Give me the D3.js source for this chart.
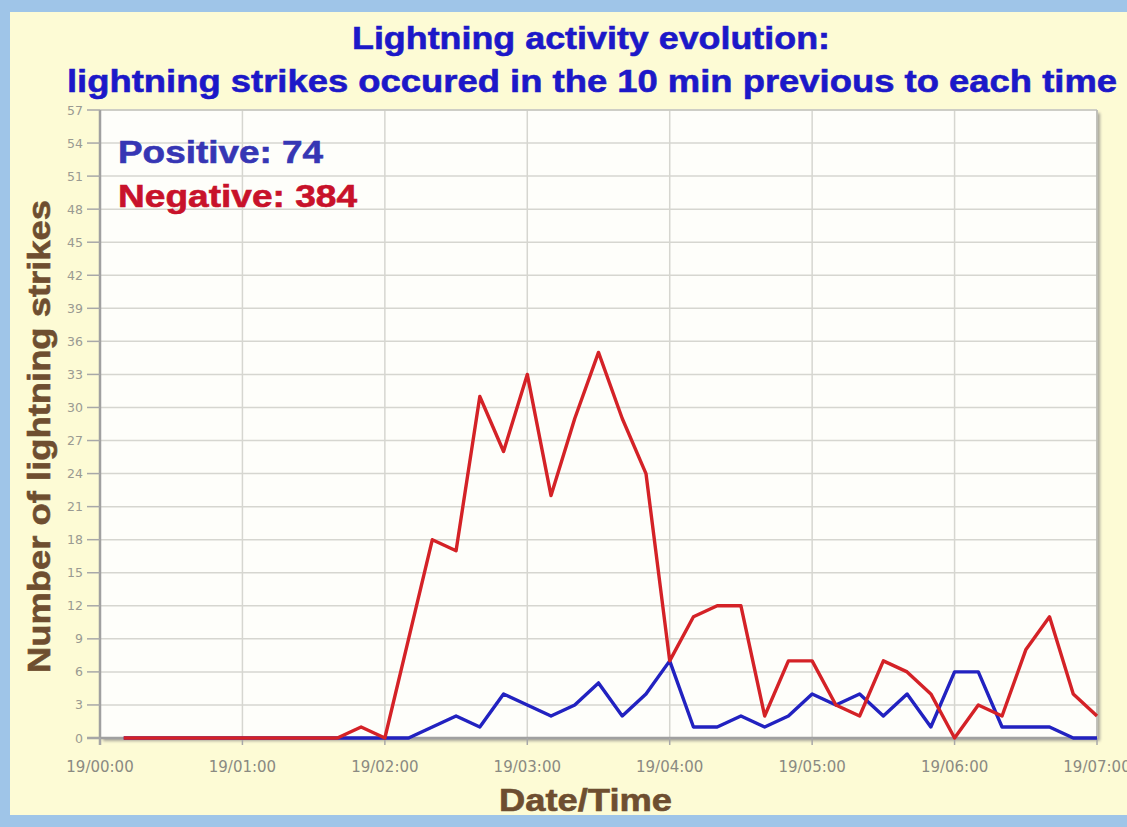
<!DOCTYPE html>
<html>
<head>
<meta charset="utf-8">
<script src="https://cdn.jsdelivr.net/npm/d3@7"></script>
<style>
  body { margin: 0; background: #9fc5e8; }
  svg { display: block; }
</style>
</head>
<body>
<svg id="chart" width="1127" height="827"></svg>
<script>
// data: strikes in the 10 min before each time
var times = ["00:10","00:20","00:30","00:40","00:50","01:00","01:10","01:20","01:30","01:40","01:50","02:00",
             "02:10","02:20","02:30","02:40","02:50","03:00","03:10","03:20","03:30","03:40","03:50","04:00",
             "04:10","04:20","04:30","04:40","04:50","05:00","05:10","05:20","05:30","05:40","05:50","06:00",
             "06:10","06:20","06:30","06:40","06:50","07:00"];
var positive = [0,0,0,0,0,0,0,0,0,0,0,0,0,1,2,1,4,3,2,3,5,2,4,7,1,1,2,1,2,4,3,4,2,4,1,6,6,1,1,1,0,0];
var negative = [0,0,0,0,0,0,0,0,0,0,1,0,9,18,17,31,26,33,22,29,35,29,24,7,11,12,12,2,7,7,3,2,7,6,4,0,3,2,8,11,4,2];
var xTickLabels = ["19/00:00","19/01:00","19/02:00","19/03:00","19/04:00","19/05:00","19/06:00","19/07:00"];
var yTickLabels = [0,3,6,9,12,15,18,21,24,27,30,33,36,39,42,45,48,51,54,57];

var parse = d3.timeParse("%d/%H:%M");
var svg = d3.select('#chart');

// yellow panel
svg.append('rect').attr('x', 10).attr('y', 12).attr('width', 1117).attr('height', 803).attr('fill', '#fdfbd5');

// plot box (window.top is taken, so p-prefixed names)
var pLeft = 100, pRight = 1097, pTop = 110, pBottom = 738;

var x = d3.scaleTime()
    .domain([parse(xTickLabels[0]), parse(xTickLabels[xTickLabels.length - 1])])
    .range([pLeft, pRight]);
var y = d3.scaleLinear().domain([0, 57]).range([pBottom, pTop]);

// shadow + plot background
var defs = svg.append('defs');
defs.append('filter').attr('id', 'blur').append('feGaussianBlur').attr('stdDeviation', 1.5);
defs.append('filter').attr('id', 'soft').append('feGaussianBlur').attr('stdDeviation', 0.6);
svg.append('rect').attr('x', pLeft + 3).attr('y', pTop + 3).attr('width', pRight - pLeft).attr('height', pBottom - pTop)
   .attr('fill', '#a8a69a').attr('filter', 'url(#blur)');
svg.append('rect').attr('x', pLeft).attr('y', pTop).attr('width', pRight - pLeft).attr('height', pBottom - pTop)
   .attr('fill', '#fefefa');

// grid
svg.append('g').selectAll('line').data(yTickLabels).enter().append('line')
   .attr('x1', pLeft).attr('x2', pRight)
   .attr('y1', d => y(d)).attr('y2', d => y(d))
   .attr('stroke', '#d6d6d0').attr('stroke-width', 1.5);
svg.append('g').selectAll('line').data(xTickLabels).enter().append('line')
   .attr('x1', d => x(parse(d))).attr('x2', d => x(parse(d)))
   .attr('y1', pTop).attr('y2', pBottom)
   .attr('stroke', '#d6d6d0').attr('stroke-width', 1.5);

// frame + ticks
svg.append('line').attr('x1', pLeft).attr('x2', pRight).attr('y1', pTop).attr('y2', pTop).attr('stroke', '#c8c8c0').attr('stroke-width', 1.5);
svg.append('line').attr('x1', pRight).attr('x2', pRight).attr('y1', pTop).attr('y2', pBottom).attr('stroke', '#b8b8b0').attr('stroke-width', 1.5);
svg.append('line').attr('x1', pLeft).attr('x2', pLeft).attr('y1', pTop).attr('y2', pBottom + 7).attr('stroke', '#a0a0a0').attr('stroke-width', 2.5);
svg.append('line').attr('x1', pLeft - 13).attr('x2', pRight).attr('y1', pBottom).attr('y2', pBottom).attr('stroke', '#a0a0a0').attr('stroke-width', 2.5);

svg.append('g').selectAll('line').data(yTickLabels).enter().append('line')
   .attr('x1', pLeft - 13).attr('x2', pLeft)
   .attr('y1', d => y(d)).attr('y2', d => y(d))
   .attr('stroke', '#a8a8a8').attr('stroke-width', 1.5);
svg.append('g').selectAll('line').data(xTickLabels).enter().append('line')
   .attr('x1', d => x(parse(d))).attr('x2', d => x(parse(d)))
   .attr('y1', pBottom).attr('y2', pBottom + 7)
   .attr('stroke', '#a8a8a8').attr('stroke-width', 1.5);

// tick labels
svg.append('g').selectAll('text').data(yTickLabels).enter().append('text')
   .attr('x', 83).attr('y', d => y(d) + 4.5)
   .attr('text-anchor', 'end')
   .attr('font-family', 'DejaVu Sans').attr('font-size', 12.5)
   .attr('fill', '#9a9a92')
   .text(d => d);
svg.append('g').selectAll('text').data(xTickLabels).enter().append('text')
   .attr('x', d => x(parse(d))).attr('y', 772)
   .attr('text-anchor', 'middle')
   .attr('font-family', 'DejaVu Sans').attr('font-size', 15)
   .attr('fill', '#8a8a82')
   .text(d => d);

// lines
var line = d3.line()
    .x((d, i) => x(parse('19/' + times[i])))
    .y(d => y(d));
svg.append('path').datum(positive).attr('d', line)
   .attr('fill', 'none').attr('stroke', '#2020c0').attr('stroke-width', 3.4)
   .attr('stroke-linejoin', 'round').attr('filter', 'url(#soft)');
svg.append('path').datum(negative).attr('d', line)
   .attr('fill', 'none').attr('stroke', '#d42028').attr('stroke-width', 3.4)
   .attr('stroke-linejoin', 'round').attr('filter', 'url(#soft)');

// texts
function boldText(tx, ty, str, len, color, size) {
  return svg.append('text').attr('x', tx).attr('y', ty)
     .attr('font-family', 'Liberation Sans, Arial, sans-serif').attr('font-weight', 'bold')
     .attr('font-size', size).attr('fill', color)
     .attr('stroke', color).attr('stroke-width', 0.6)
     .attr('textLength', len).attr('lengthAdjust', 'spacingAndGlyphs')
     .text(str);
}
boldText(352, 49, 'Lightning activity evolution:', 478, '#1c18c8', 32);
boldText(67, 92, 'lightning strikes occured in the 10 min previous to each time', 1050, '#1c18c8', 32);
boldText(118, 163, 'Positive: 74', 205, '#3636b4', 32);
boldText(118, 207, 'Negative: 384', 239, '#c8122a', 32);
boldText(499, 811, 'Date/Time', 173, '#6e4e30', 32);
boldText(0, 0, 'Number of lightning strikes', 473, '#6e4e30', 32)
   .attr('transform', 'translate(50,673) rotate(-90)');
</script>
</body>
</html>
